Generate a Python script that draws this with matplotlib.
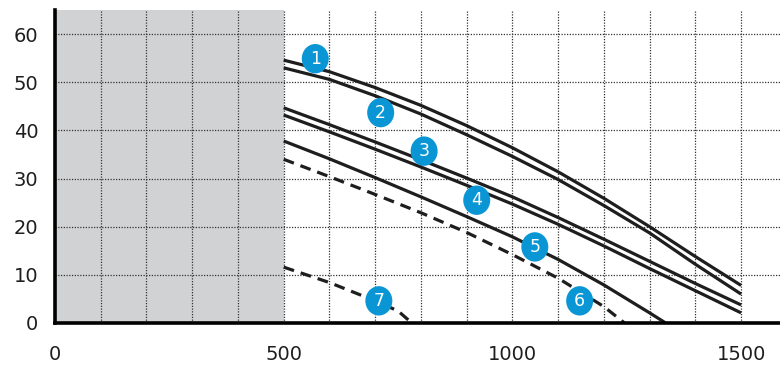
import matplotlib
matplotlib.use('Agg')
import matplotlib.pyplot as plt
from matplotlib.patches import Ellipse
from matplotlib.ticker import FixedLocator
import numpy as np

# curve data (x, y)
x_std = [500, 600, 700, 800, 900, 1000, 1100, 1200, 1300, 1400, 1500]
c1 = [54.6, 52.2, 48.9, 45.2, 41.0, 36.4, 31.4, 25.9, 20.0, 13.8, 7.8]
c2 = [53.0, 50.6, 47.2, 43.4, 39.1, 34.6, 29.8, 24.4, 18.7, 12.2, 6.0]
c3 = [44.7, 41.2, 37.6, 33.9, 30.1, 26.2, 21.9, 17.4, 12.8, 8.2, 3.75]
c4 = [43.2, 39.7, 36.1, 32.4, 28.6, 24.7, 20.5, 16.0, 11.3, 6.7, 2.1]
x5 = [500, 600, 700, 800, 900, 1000, 1100, 1200, 1300, 1335]
c5 = [37.8, 34.1, 30.2, 26.2, 22.1, 17.9, 13.2, 7.9, 2.1, 0.0]
x6 = [500, 600, 700, 800, 900, 1000, 1100, 1200, 1245]
c6 = [34.0, 30.4, 26.7, 22.9, 18.8, 14.2, 9.3, 3.4, 0.0]
x7 = [500, 600, 700, 750, 780]
c7 = [11.6, 8.4, 4.6, 2.5, 0.0]

# badge labels and their positions
badge_labels = ['1', '2', '3', '4', '5', '6', '7']
badge_x = [569, 712, 807, 922, 1049, 1147, 708]
badge_y = [54.9, 43.7, 35.7, 25.5, 15.8, 4.6, 4.6]

x_ticks = [0, 500, 1000, 1500]
y_ticks = [0, 10, 20, 30, 40, 50, 60]

fig = plt.figure(figsize=(7.8, 3.69), dpi=100)
ax = fig.add_axes([0.0705, 0.1247, 0.9295, 0.848])

ax.set_xlim(0, 1585)
ax.set_ylim(0, 65)

# grey region below 500
ax.axvspan(0, 500, color='#d1d2d4', zorder=0, lw=0)

ax.set_xticks(x_ticks)
ax.set_yticks(y_ticks)

# dotted grid, every 100 on x and every 10 on y
ax.xaxis.set_minor_locator(FixedLocator(np.arange(100, 1600, 100)))
ax.grid(which='both', color='#333333', linestyle=(0, (1, 1.2)), lw=0.9)
ax.set_axisbelow(True)

lw = 2.3
for yy in (c1, c2, c3, c4):
    ax.plot(x_std, yy, color='#1e1e1e', lw=lw, solid_capstyle='butt', zorder=3)
ax.plot(x5, c5, color='#1e1e1e', lw=lw, solid_capstyle='butt', zorder=3)
ax.plot(x6, c6, color='#1e1e1e', lw=lw, dashes=(3.4, 2.2), zorder=3)
ax.plot(x7, c7, color='#1e1e1e', lw=lw, dashes=(3.4, 2.2), zorder=3)

for lab, bx, by in zip(badge_labels, badge_x, badge_y):
    ax.add_patch(Ellipse((bx, by), 59, 6.1, color='#0a96d4', zorder=5, lw=0))
    ax.text(bx, by, lab, color='white', fontsize=12.5, fontweight='medium',
            ha='center', va='center', zorder=6)

ax.tick_params(axis='both', which='both', length=0, labelsize=14, colors='#1e1e1e')
ax.tick_params(axis='x', pad=16)
ax.tick_params(axis='y', pad=12)

for s in ('top', 'right'):
    ax.spines[s].set_visible(False)
for s in ('left', 'bottom'):
    ax.spines[s].set_linewidth(2.6)
    ax.spines[s].set_color('black')
    ax.spines[s].set_zorder(7)

fig.savefig('out.png', dpi=100)
plt.close()
